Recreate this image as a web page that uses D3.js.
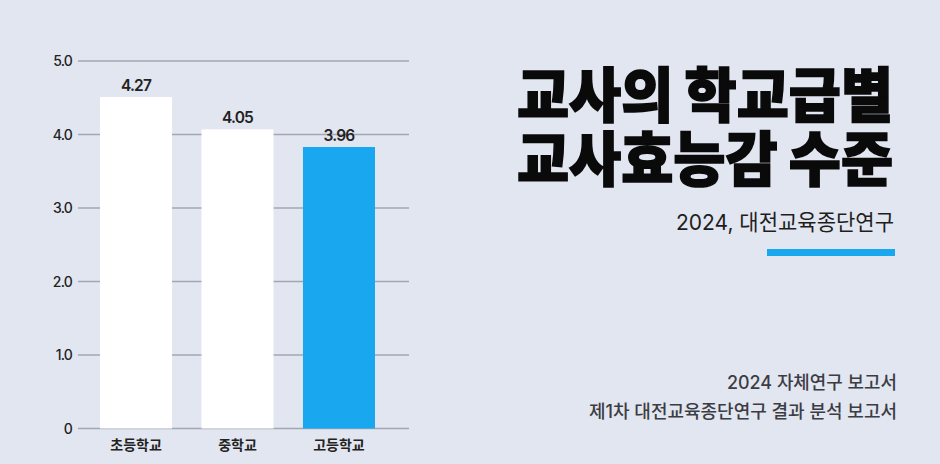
<!DOCTYPE html>
<html><head><meta charset="utf-8">
<script src="https://cdn.jsdelivr.net/npm/d3@7/dist/d3.min.js"></script>
<style>
html,body{margin:0;padding:0;background:#e2e6f0;}
svg{display:block;}
text{font-family:"Inter","Noto Sans CJK KR",sans-serif;}
</style></head>
<body>
<svg id="chart" width="940" height="464"></svg>
<script>
const categories = ["초등학교", "중학교", "고등학교"];
const valueLabels = ["4.27", "4.05", "3.96"];
const barHeights = [4.51, 4.07, 3.83]; // bar tops as drawn in the reference
const barColors = ["#ffffff", "#ffffff", "#19a8ef"];
const yTicks = [0, 1, 2, 3, 4, 5];
const yTickLabels = ["0", "1.0", "2.0", "3.0", "4.0", "5.0"];
const titleLines = ["교사의 학교급별", "교사효능감 수준"];
const subtitle = "2024, 대전교육종단연구";
const footLines = ["2024 자체연구 보고서", "제1차 대전교육종단연구 결과 분석 보고서"];

const svg = d3.select("#chart");
svg.append("rect").attr("width", 940).attr("height", 464).attr("fill", "#e2e6f0");

const x = d3.scaleBand().domain(categories).range([100, 375]).paddingInner(0.29).paddingOuter(0);
const y = d3.scaleLinear().domain([0, 5]).range([428.5, 61]);

// grid
const grid = svg.append("g");
grid.selectAll("line").data(yTicks).join("line")
  .attr("x1", 78).attr("x2", 409)
  .attr("y1", d => y(d)).attr("y2", d => y(d))
  .attr("stroke", "#a3a6b4").attr("stroke-width", 1.3);

// y axis labels
const yAxis = d3.axisLeft(y).tickValues(yTicks).tickFormat((d, i) => yTickLabels[i]).tickSize(0).tickPadding(0);
const ga = svg.append("g").attr("transform", "translate(72,0)").call(yAxis);
ga.select(".domain").remove();
ga.selectAll("text").attr("font-size", 14).attr("fill", "#222").attr("font-weight", 500)
  .attr("letter-spacing", "-0.8").attr("dy", "0.33em");

// bars
svg.append("g").selectAll("rect").data(categories).join("rect")
  .attr("x", d => x(d)).attr("width", x.bandwidth())
  .attr("y", (d, i) => y(barHeights[i]))
  .attr("height", (d, i) => y(0) - y(barHeights[i]))
  .attr("fill", (d, i) => barColors[i]);

// value labels
svg.append("g").selectAll("text").data(categories).join("text")
  .attr("x", d => x(d) + x.bandwidth() / 2)
  .attr("y", (d, i) => y(barHeights[i]) - 6)
  .attr("text-anchor", "middle").attr("font-size", 15.5).attr("font-weight", 600)
  .attr("letter-spacing", "-0.8").attr("fill", "#222")
  .text((d, i) => valueLabels[i]);

// x labels
const xAxis = d3.axisBottom(x).tickSize(0).tickPadding(0);
const gx = svg.append("g").attr("transform", "translate(0,450)").call(xAxis);
gx.select(".domain").remove();
gx.selectAll("text").attr("font-size", 14).attr("font-weight", 700).attr("fill", "#222")
  .attr("font-family", "Noto Sans CJK KR").attr("dy", 0).attr("y", 0);

// title
svg.append("g").selectAll("text").data(titleLines).join("text")
  .attr("x", 893).attr("y", (d, i) => 117 + i * 64)
  .attr("text-anchor", "end")
  .attr("font-family", "Noto Sans CJK KR").attr("font-weight", 900).attr("font-size", 59)
  .attr("fill", "#0a0a0a").attr("stroke", "#0a0a0a").attr("stroke-width", 1.6)
  .attr("textLength", 376).attr("lengthAdjust", "spacingAndGlyphs")
  .text(d => d);

svg.append("text").attr("x", 894).attr("y", 230).attr("text-anchor", "end")
  .attr("font-family", "Noto Sans CJK KR").attr("font-weight", 400).attr("font-size", 22)
  .attr("fill", "#1e1e1e")
  .attr("textLength", 218).attr("lengthAdjust", "spacingAndGlyphs")
  .text(subtitle);

svg.append("rect").attr("x", 767).attr("y", 249).attr("width", 128).attr("height", 7).attr("fill", "#19a8ef");

const footLens = [170, 308];
svg.append("g").selectAll("text").data(footLines).join("text")
  .attr("x", 897).attr("y", (d, i) => 389 + i * 29)
  .attr("text-anchor", "end")
  .attr("font-family", "Noto Sans CJK KR").attr("font-weight", 500).attr("font-size", 18)
  .attr("fill", "#3c3d44")
  .attr("textLength", (d, i) => footLens[i]).attr("lengthAdjust", "spacingAndGlyphs")
  .text(d => d);
</script>
</body></html>
